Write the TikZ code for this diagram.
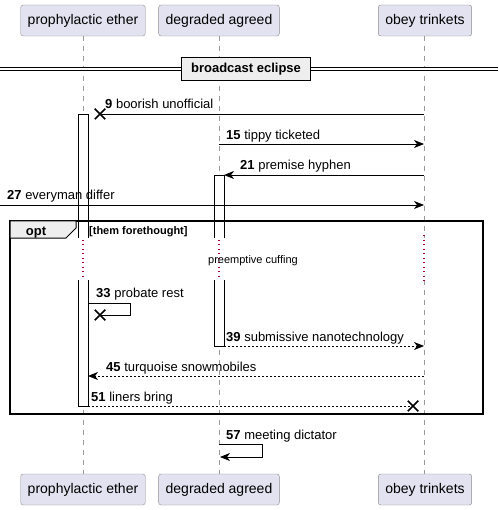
\documentclass[tikz,border=0pt]{standalone}
\usepackage{fontspec}
\setmainfont{Liberation Sans}
\usetikzlibrary{positioning, shapes.misc, arrows.meta}

\definecolor{partfill}{HTML}{E2E2F0}
\definecolor{partline}{HTML}{8C8C8C}
\definecolor{lifegray}{HTML}{9A9A9A}
\definecolor{delayred}{HTML}{A80036}
\definecolor{boxgray}{HTML}{EEEEEE}

\begin{document}
\begin{tikzpicture}[x=1pt, y=-1pt]

\tikzstyle{part} = [draw=partline, fill=partfill, rounded corners=2.5pt, minimum height=31pt, inner xsep=7pt, inner ysep=0pt, font=\fontsize{14}{16}\selectfont];
\tikzstyle{life} = [draw=lifegray, dash pattern=on 5pt off 5pt, line width=0.8pt];
\tikzstyle{delay} = [draw=delayred, dash pattern=on 1.2pt off 3.3pt, line width=1.2pt];
\tikzstyle{bar} = [draw=black, line width=0.9pt];
\tikzstyle{msg} = [line width=0.9pt, -{Stealth[length=10pt, width=8pt, inset=3pt]}];
\tikzstyle{ret} = [msg, dash pattern=on 2pt off 2pt];
\tikzstyle{xmark} = [cross out, draw, line width=1.5pt, minimum size=9pt, inner sep=0pt];
\tikzstyle{lbl} = [anchor=base west, inner sep=0pt, font=\fontsize{13}{15}\selectfont];

\useasboundingbox [fill=white] (0,0) rectangle (498,510);

\node(peT) [part] at (83,20.5) {prophylactic ether};
\node(dgT) [part] at (219,20.5) {degraded agreed};
\node(obT) [part] at (425,20.5) {obey trinkets};

\node(peB) [part] at (83,489.5) {prophylactic ether};
\node(dgB) [part] at (219,489.5) {degraded agreed};
\node(obB) [part] at (425,489.5) {obey trinkets};

\coordinate(peD1) at (83,238);
\coordinate(peD2) at (83,280);
\coordinate(dgD1) at (219,238);
\coordinate(dgD2) at (219,280);
\coordinate(obD1) at (424,238);
\coordinate(obD2) at (424,280);

\draw [life] (83,36) -- (peD1);
\draw [life] (peD2) -- (83,474);
\draw [life] (dgT.south) -- (dgD1);
\draw [life] (dgD2) -- (dgB.north);
\draw [life] (424,36) -- (obD1);
\draw [life] (obD2) -- (424,474);

\draw [delay] ([yshift=3pt]peD1) -- ([yshift=-2pt]peD2);
\draw [delay] ([yshift=3pt]dgD1) -- ([yshift=-2pt]dgD2);
\draw [delay] ([yshift=3pt]obD1) -- ([yshift=-2pt]obD2);

\node(delayTxt) [inner sep=0pt, font=\fontsize{11}{13}\selectfont, anchor=base] at (253,263) {preemptive cuffing};

\fill[white] (78,114) rectangle (88,238);
\draw [bar] (78,238) -- (78,114) -- (88,114) -- (88,238);
\fill[white] (78,280) rectangle (88,406);
\draw [bar] (78,280) -- (78,406) -- (88,406) -- (88,280);
\fill[white] (214,175) rectangle (224,238);
\draw [bar] (214,238) -- (214,175) -- (224,175) -- (224,238);
\fill[white] (214,280) rectangle (224,346);
\draw [bar] (214,280) -- (214,346) -- (224,346) -- (224,280);

\draw[double, double distance=2.8pt, line width=0.9pt] (0,69) -- (498,69);
\node(div) [draw, line width=1.5pt, fill=boxgray, minimum width=129pt, minimum height=23pt, inner sep=0pt, font=\bfseries\fontsize{13}{15}\selectfont] at (246,69) {broadcast eclipse};

\draw[line width=1.5pt] (10,221) rectangle (483,414);
\draw[fill=boxgray, line width=1pt] (10,221) -- (76,221) -- (76,228) -- (66,238) -- (10,238) -- cycle;
\node(optTxt) [inner sep=0pt, anchor=base, font=\bfseries\fontsize{13}{15}\selectfont] at (36,235) {opt};
\node(guard) [inner sep=0pt, anchor=base west, font=\bfseries\fontsize{11}{13}\selectfont] at (89,234) {[them forethought]};

\coordinate(m9a) at (424,114);
\node(x9) [xmark] at (100,114) {};
\draw [line width=0.9pt] (m9a) -- (x9.center);
\node(l9) [lbl] at (105,109) {\textbf{9} boorish unofficial};

\coordinate(m15a) at (219,144);
\coordinate(m15b) at (424,144);
\draw [msg] (m15a) -- (m15b);
\node(l15) [lbl] at (226,139.5) {\textbf{15} tippy ticketed};

\coordinate(m21a) at (424,175);
\coordinate(m21b) at (224,175);
\draw [msg] (m21a) -- (m21b);
\node(l21) [lbl] at (240,170) {\textbf{21} premise hyphen};

\coordinate(m27a) at (0,205);
\coordinate(m27b) at (424,205);
\draw [msg] (m27a) -- (m27b);
\node(l27) [lbl] at (7,200) {\textbf{27} everyman differ};

\coordinate(m33a) at (88,303);
\node(x33) [xmark] at (100,315) {};
\draw [line width=0.9pt] (m33a) -- (130,303) -- (130,315) -- (x33.center);
\node(l33) [lbl] at (96,297) {\textbf{33} probate rest};

\coordinate(m39a) at (224,346);
\coordinate(m39b) at (424,346);
\draw [ret] (m39a) -- (m39b);
\node(l39) [lbl] at (226,341) {\textbf{39} submissive nanotechnology};

\coordinate(m45a) at (424,376);
\coordinate(m45b) at (88,376);
\draw [ret] (m45a) -- (m45b);
\node(l45) [lbl] at (106,371) {\textbf{45} turquoise snowmobiles};

\coordinate(m51a) at (88,406);
\node(x51) [xmark] at (413,406) {};
\draw [line width=0.9pt, dash pattern=on 2pt off 2pt] (m51a) -- (x51.center);
\node(l51) [lbl] at (91,401.5) {\textbf{51} liners bring};

\coordinate(m57a) at (219,444);
\coordinate(m57b) at (220,457);
\draw [msg] (m57a) -- (262,444) -- (262,457) -- (m57b);
\node(l57) [lbl] at (226,439) {\textbf{57} meeting dictator};

\end{tikzpicture}
\end{document}
